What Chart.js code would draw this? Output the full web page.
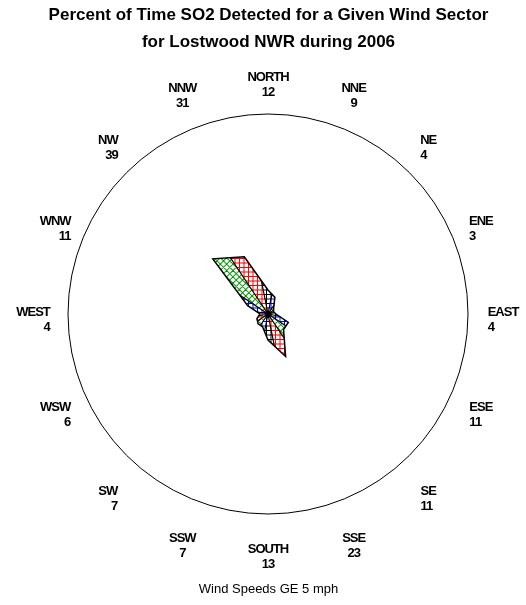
<!DOCTYPE html>
<html>
<head>
<meta charset="utf-8">
<script src="https://cdn.jsdelivr.net/npm/chart.js@4.4.1/dist/chart.umd.min.js"></script>
<style>
  body { margin: 0; background: #fff; }
</style>
</head>
<body>
<canvas id="rose" width="526" height="605"></canvas>
<script>
// wind sectors, clockwise from north
const sectors = ["NORTH", "NNE", "NE", "ENE", "EAST", "ESE", "SE", "SSE",
                 "SOUTH", "SSW", "SW", "WSW", "WEST", "WNW", "NW", "NNW"];
// percent of time SO2 detected in each sector
const pctDetected = [12, 9, 4, 3, 4, 11, 11, 23, 13, 7, 7, 6, 4, 11, 39, 31];
const titleLines = ["Percent of Time SO2 Detected for a Given Wind Sector",
                    "for Lostwood NWR during 2006"];
const footNote = "Wind Speeds GE 5 mph";

// hatch colours cycle N, NNE, NE, ENE, ...
const hatchColors = ["#000000", "#0000ff", "#009a00", "#ff0000"];
const labelFont = "bold 13px 'Liberation Sans', Arial, sans-serif";

// crosshatched wedge per sector, clipped to the radar polygon
const sectorHatch = {
  id: "sectorHatch",
  beforeDatasetsDraw(chart) {
    const scale = chart.scales.r;
    const ctx = chart.ctx;
    const n = pctDetected.length;
    const cx = scale.xCenter, cy = scale.yCenter, R = scale.drawingArea;
    const step = 2 * Math.PI / n;
    const gap = 4.5;
    const pts = pctDetected.map((v, i) => scale.getPointPositionForValue(i, v));

    ctx.save();
    ctx.beginPath();
    pts.forEach((p, i) => i ? ctx.lineTo(p.x, p.y) : ctx.moveTo(p.x, p.y));
    ctx.closePath();
    ctx.clip();

    for (let i = 0; i < n; i++) {
      const mid = scale.getIndexAngle(i) - Math.PI / 2;
      ctx.save();
      ctx.beginPath();
      ctx.moveTo(cx, cy);
      ctx.arc(cx, cy, R, mid - step / 2, mid + step / 2);
      ctx.closePath();
      ctx.clip();
      ctx.strokeStyle = hatchColors[i % 4];
      ctx.lineWidth = 1;
      ctx.translate(cx, cy);
      if (i % 4 === 2) ctx.rotate(Math.PI / 4);
      ctx.beginPath();
      for (let d = -R; d <= R; d += gap) {
        ctx.moveTo(d + 0.5, -R); ctx.lineTo(d + 0.5, R);
        ctx.moveTo(-R, d + 0.5); ctx.lineTo(R, d + 0.5);
      }
      ctx.stroke();
      ctx.restore();
    }

    // sector boundaries
    ctx.strokeStyle = "#000";
    ctx.lineWidth = 1.2;
    ctx.beginPath();
    for (let i = 0; i < n; i++) {
      const a = scale.getIndexAngle(i) - Math.PI / 2 - step / 2;
      ctx.moveTo(cx, cy);
      ctx.lineTo(cx + R * Math.cos(a), cy + R * Math.sin(a));
    }
    ctx.stroke();
    ctx.restore();

    ctx.save();
    ctx.fillStyle = "#000";
    ctx.beginPath();
    ctx.arc(cx, cy, 2.5, 0, 2 * Math.PI);
    ctx.fill();
    ctx.restore();
  }
};

// direction name with its value under it, outside the circle
const sectorLabels = {
  id: "sectorLabels",
  afterDraw(chart) {
    const scale = chart.scales.r;
    const ctx = chart.ctx;
    ctx.save();
    ctx.font = labelFont;
    ctx.letterSpacing = "-1px";
    ctx.fillStyle = "#000";
    ctx.textBaseline = "middle";
    sectors.forEach((name, i) => {
      const p = scale.getPointPosition(i, scale.drawingArea + 35);
      const th = scale.getIndexAngle(i);
      const c = Math.cos(th);
      const s2 = Math.abs(Math.sin(2 * th));
      let y = p.y + 6;
      if (c < -0.01) y += -c * s2 * s2 * 16 + 1.5;
      else if (c > 0.01) y -= c * c * s2 * 11.5;
      const xIn = -6 * s2 * Math.sign(Math.round(Math.sin(th) * 1000));
      const deg = i * 360 / sectors.length;
      const w = ctx.measureText(name).width;
      let x = p.x + xIn, align = "center";
      if (deg > 30 && deg < 150) { align = "left"; x -= w / 2; }
      else if (deg > 210 && deg < 330) { align = "right"; x += w / 2; }
      ctx.textAlign = align;
      ctx.fillText(name, x, y - 7.5);
      ctx.fillText(String(pctDetected[i]), x, y + 7.5);
    });
    ctx.restore();
  }
};

new Chart(document.getElementById("rose"), {
  type: "radar",
  data: {
    labels: sectors,
    datasets: [{
      data: pctDetected,
      borderColor: "#000",
      borderWidth: 1.5,
      backgroundColor: "rgba(0,0,0,0)",
      fill: false,
      pointRadius: 0,
      tension: 0
    }]
  },
  options: {
    responsive: false,
    animation: false,
    layout: { padding: { left: 11, right: 0, top: 0, bottom: 0 } },
    plugins: {
      legend: { display: false },
      tooltip: { enabled: false },
      title: {
        display: true,
        text: titleLines,
        color: "#000",
        font: { family: "'Liberation Sans', Arial, sans-serif", size: 17, weight: "bold", lineHeight: 27 / 17 },
        padding: { top: 2, bottom: 58 }
      },
      subtitle: {
        display: true,
        position: "bottom",
        text: footNote,
        color: "#000",
        font: { family: "'Liberation Sans', Arial, sans-serif", size: 13, weight: "normal", lineHeight: 1.2 },
        padding: { top: 66.2, bottom: 8.2 }
      }
    },
    scales: {
      r: {
        min: 0,
        max: 100,
        ticks: { display: false, stepSize: 100 },
        grid: { circular: true, color: "#000", lineWidth: 1 },
        angleLines: { display: false },
        pointLabels: { display: false }
      }
    }
  },
  plugins: [sectorHatch, sectorLabels]
});
</script>
</body>
</html>
